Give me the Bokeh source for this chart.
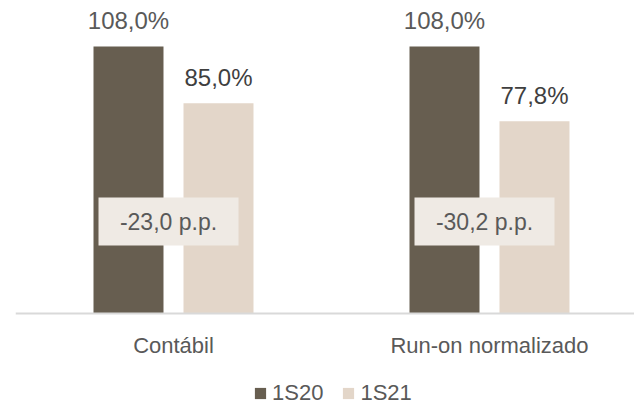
from bokeh.plotting import figure
from bokeh.models import ColumnDataSource, Range1d, Legend, LegendItem, Span
from bokeh.core.properties import value
from bokeh.embed import file_html
from bokeh.resources import INLINE

categories = ["Contábil", "Run-on normalizado"]
s1_label = "1S20"
s2_label = "1S21"
s1_values = [108.0, 108.0]
s2_values = [85.0, 77.8]

DARK = "#675E50"
LIGHT = "#E3D6C9"
BOX = "#EFEAE4"
TXT = "#595959"
FONT = "Liberation Sans"

def pct(v):
    return f"{v:.1f}".replace(".", ",") + "%"

def pp(v):
    return f"{v:.1f}".replace(".", ",") + " p.p."

idx = list(range(len(categories)))
off = 0.1424
bw = 0.2215
x1 = [i - off for i in idx]
x2 = [i + off for i in idx]
deltas = [b - a for a, b in zip(s1_values, s2_values)]

src1 = ColumnDataSource(dict(x=x1, top=s1_values, lab=[pct(v) for v in s1_values]))
src2 = ColumnDataSource(dict(x=x2, top=s2_values, lab=[pct(v) for v in s2_values]))
box_src = ColumnDataSource(dict(x=[i - 0.0158 for i in idx], y=[37.2] * len(idx),
                                lab=[pp(d) for d in deltas]))
cat_src = ColumnDataSource(dict(x=idx, y=[0] * len(idx), lab=categories))

p = figure(width=634, height=406, output_backend="svg", toolbar_location=None,
           x_range=Range1d(-0.5, 1.4589), y_range=Range1d(-37.6, 126.6),
           min_border_left=15, min_border_right=0, min_border_top=0, min_border_bottom=0)
p.outline_line_color = None
p.grid.visible = False
p.axis.visible = False
p.background_fill_color = "white"

r1 = p.vbar(x="x", top="top", width=bw, bottom=0, source=src1, fill_color=DARK, line_color=None)
r2 = p.vbar(x="x", top="top", width=bw, bottom=0, source=src2, fill_color=LIGHT, line_color=None)

p.add_layout(Span(location=0, dimension="width", line_color="#D9D9D9", line_width=2))

p.text(x="x", y="top", text="lab", source=src1, text_align="center", text_baseline="bottom",
       y_offset=-12, text_font=value(FONT), text_font_size="24px", text_color=TXT)
p.text(x="x", y="top", text="lab", source=src2, text_align="center", text_baseline="bottom",
       y_offset=-12, text_font=value(FONT), text_font_size="24px", text_color="#3F3F3F")

p.rect(x="x", y="y", width=0.443, height=19.4, source=box_src, fill_color=BOX, line_color=None)
p.text(x="x", y="y", text="lab", source=box_src, text_align="center", text_baseline="middle",
       y_offset=0, text_font=value(FONT), text_font_size="23px", text_color=TXT)

p.text(x="x", y="y", text="lab", source=cat_src, text_align="center", text_baseline="middle",
       y_offset=32, text_font=value(FONT), text_font_size="22px", text_color=TXT)

legend = Legend(items=[LegendItem(label=s1_label, renderers=[r1]),
                       LegendItem(label=s2_label, renderers=[r2])],
                location=(238, 0), orientation="horizontal",
                glyph_width=14, glyph_height=14, label_standoff=5, spacing=18,
                padding=0, margin=0, border_line_color=None, background_fill_alpha=0,
                label_text_font=FONT, label_text_font_size="22px", label_text_color=TXT,
                label_height=20)
p.add_layout(legend, "center")

open("out.html", "w").write(file_html(p, INLINE))
